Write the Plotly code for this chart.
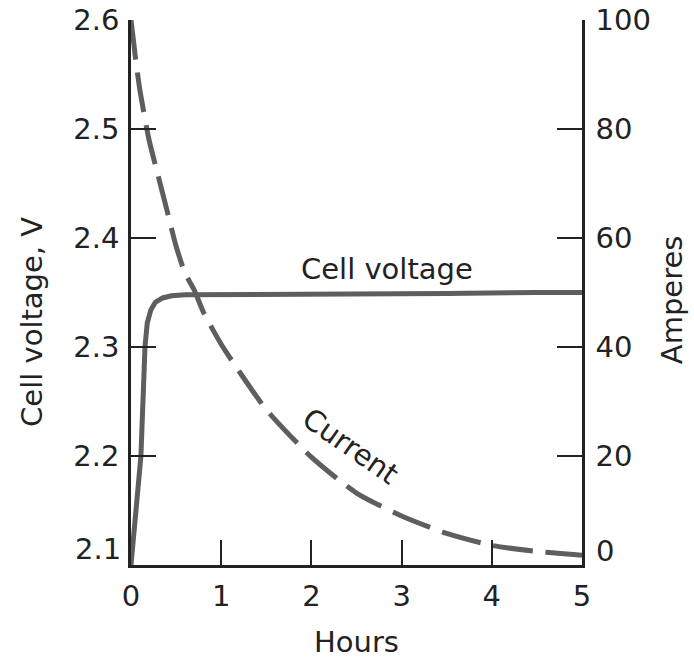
import plotly.graph_objects as go

# Charging run: time in hours
volt_hours = [0.0, 0.05, 0.11, 0.155, 0.18, 0.22, 0.27, 0.35, 0.45, 0.6, 0.8, 1.5, 2.5, 3.5, 4.5, 5.0]
cell_voltage = [2.100, 2.145, 2.200, 2.300, 2.322, 2.334, 2.341, 2.345, 2.347, 2.348, 2.348, 2.348, 2.349, 2.349, 2.350, 2.350]

curr_hours = [0.0, 0.05, 0.1, 0.2, 0.3, 0.4, 0.5, 0.6, 0.7, 0.8, 1.0, 1.2, 1.5, 2.0, 2.5, 3.0, 3.5, 4.0, 4.5, 5.0]
current_amps = [100, 93, 87, 78, 71.5, 65, 58.5, 53.5, 50.5, 46.5, 40.5, 35.5, 28.5, 19.8, 13.2, 9.0, 5.8, 3.6, 2.5, 1.8]

hour_ticks = [0, 1, 2, 3, 4, 5]
volt_ticks = [2.2, 2.3, 2.4, 2.5, 2.6]
amp_ticks = [20, 40, 60, 80, 100]

FONT = "DejaVu Sans"
TXT = "#222222"
LINE = "#5e5e5e"
AX = "#222222"
FS = 29

fig = go.Figure()

fig.add_trace(go.Scatter(
    x=volt_hours, y=cell_voltage, mode="lines", yaxis="y",
    line=dict(color=LINE, width=5), showlegend=False, hoverinfo="skip",
))
fig.add_trace(go.Scatter(
    x=curr_hours, y=current_amps, mode="lines", yaxis="y2",
    line=dict(color=LINE, width=5, dash="40px,13px", shape="spline", smoothing=0.6),
    showlegend=False, hoverinfo="skip",
))

axis_common = dict(
    showgrid=False, zeroline=False, showline=True, linecolor=AX, linewidth=2.5,
    ticks="inside", ticklen=25, tickwidth=2, tickcolor=AX, automargin=False,
    tickfont=dict(family=FONT, size=FS, color=TXT),
)

fig.update_layout(
    width=694, height=661,
    margin=dict(l=131, r=112, t=20, b=96),
    paper_bgcolor="white", plot_bgcolor="white",
    xaxis=dict(range=[0, 5], tickvals=hour_ticks, ticklabelstandoff=3, **axis_common),
    yaxis=dict(range=[2.1, 2.6], tickvals=volt_ticks, tickformat=".1f",
               ticklabelstandoff=3, **axis_common),
    yaxis2=dict(range=[0, 100], tickvals=amp_ticks, overlaying="y", side="right",
                ticklabelstandoff=5, **axis_common),
)

def label(text, **kw):
    fig.add_annotation(text=text, showarrow=False,
                       font=dict(family=FONT, size=FS, color=TXT), **kw)

# lowest tick labels sit slightly above the baseline
label("2.1", xref="paper", yref="y", x=-0.018, y=2.1, xanchor="right", yanchor="middle", yshift=16)
label("0", xref="paper", yref="y2", x=1.026, y=0, xanchor="left", yanchor="middle", yshift=14)

# axis titles
label("Hours", xref="paper", yref="paper", x=0.5, y=-0.141, xanchor="center", yanchor="middle")
label("Cell voltage, V", xref="paper", yref="paper", x=-0.2195, y=0.446,
      xanchor="center", yanchor="middle", textangle=-90)
label("Amperes", xref="paper", yref="paper", x=1.1996, y=0.486,
      xanchor="center", yanchor="middle", textangle=-90)

# curve labels
label("Cell voltage", xref="x", yref="y", x=2.84, y=2.372, xanchor="center", yanchor="middle")
label("Current", xref="x", yref="y2", x=2.43, y=21.8, xanchor="center", yanchor="middle", textangle=35)

fig.write_html("out.html")
